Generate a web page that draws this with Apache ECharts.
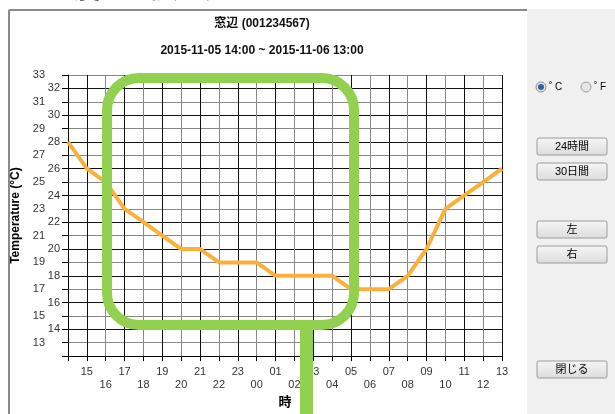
<!DOCTYPE html>
<html>
<head>
<meta charset="utf-8">
<script src="https://cdn.jsdelivr.net/npm/echarts@6/dist/echarts.min.js"></script>
<style>
  html, body { margin: 0; padding: 0; background: #fff; }
  #chart { width: 615px; height: 414px; }
</style>
</head>
<body>
<div id="chart"></div>
<script>
// hours from 2015-11-05 14:00 to 2015-11-06 13:00
const hours = ["14", "15", "16", "17", "18", "19", "20", "21", "22", "23", "00", "01",
               "02", "03", "04", "05", "06", "07", "08", "09", "10", "11", "12", "13"];
const temps = [28, 26, 25, 23, 22, 21, 20, 20, 19, 19, 19, 18,
               18, 18, 18, 17, 17, 17, 18, 20, 23, 24, 25, 26];
const yMin = 12;
const yMax = 33;

const FONT = "'Liberation Sans Narrow', 'Liberation Sans', 'Noto Sans CJK JP', sans-serif";

const chart = echarts.init(document.getElementById("chart"));

// simple windows-like button
function button(x, y, w, h, label) {
  return {
    type: "group",
    x: x,
    y: y,
    children: [
      {
        type: "rect",
        shape: { x: 0, y: 0, width: w, height: h, r: 2 },
        style: {
          fill: new echarts.graphic.LinearGradient(0, 0, 0, 1, [
            { offset: 0, color: "#f6f6f6" },
            { offset: 1, color: "#dcdcdc" },
          ]),
          stroke: "#9c9c9c",
          lineWidth: 1,
        },
      },
      {
        type: "text",
        x: w / 2,
        y: h / 2,
        style: {
          text: label,
          fill: "#000",
          font: "11px " + FONT,
          align: "center",
          verticalAlign: "middle",
        },
      },
    ],
  };
}

const option = {
  animation: false,
  backgroundColor: "#fff",
  title: [
    {
      text: "窓辺 (001234567)",
      left: 257,
      top: 13,
      textAlign: "center",
      textStyle: { fontFamily: FONT, fontSize: 12, fontWeight: "bold", color: "#111" },
    },
    {
      text: "2015-11-05 14:00 ~ 2015-11-06 13:00",
      left: 257,
      top: 40,
      textAlign: "center",
      textStyle: { fontFamily: FONT, fontSize: 12, fontWeight: "bold", color: "#111" },
    },
  ],
  grid: { left: 68, right: 113, top: 75, bottom: 48 },
  xAxis: {
    type: "category",
    data: hours,
    boundaryGap: false,
    name: "時",
    nameLocation: "middle",
    nameGap: 34,
    nameTextStyle: { fontFamily: FONT, fontSize: 13, fontWeight: "bold", color: "#000" },
    axisLine: { lineStyle: { color: "#000", width: 1 } },
    axisTick: { show: true, length: 5, lineStyle: { color: "#000" } },
    axisLabel: {
      interval: 0,
      margin: 9,
      fontFamily: FONT,
      fontSize: 11,
      color: "#333",
      lineHeight: 13,
      formatter: (v, i) => (i === 0 ? "" : i % 2 ? v : "\n" + v),
    },
    splitLine: {
      show: true,
      interval: 0,
      lineStyle: { color: ["#888", "#111"], width: 1 },
    },
  },
  yAxis: {
    type: "value",
    min: yMin,
    max: yMax,
    interval: 1,
    name: "Temperature (°C)",
    nameLocation: "middle",
    nameGap: 35,
    nameTextStyle: { fontFamily: FONT, fontSize: 12, fontWeight: "bold", color: "#000" },
    axisLine: { show: true, lineStyle: { color: "#000", width: 1 } },
    axisTick: { show: true, length: 6, lineStyle: { color: "#000" } },
    axisLabel: {
      margin: 8,
      fontFamily: FONT,
      fontSize: 11,
      color: "#333",
      formatter: (v) => (v === yMin ? "" : v % 2 ? "{o|" + v + "}" : "{e|" + v + "}"),
      rich: {
        o: { fontFamily: FONT, fontSize: 11, color: "#333", padding: [0, 15, 0, 0] },
        e: { fontFamily: FONT, fontSize: 11, color: "#333" },
      },
    },
    splitLine: {
      show: true,
      lineStyle: { color: ["#111", "#888"], width: 1 },
    },
  },
  series: [
    {
      type: "line",
      data: temps,
      showSymbol: false,
      lineStyle: { color: "#fbb03b", width: 4 },
      itemStyle: { color: "#fbb03b" },
      z: 5,
    },
  ],
  graphic: [
    // clipped heading above the frame
    {
      type: "text",
      x: 45,
      y: -24,
      style: { text: "温度 ― 履歴グラフ", font: "bold 28px " + FONT, fill: "#000" },
    },
    // window frame
    { type: "line", shape: { x1: 9, y1: 10, x2: 527, y2: 10 }, style: { stroke: "#8a8a8a", lineWidth: 2 } },
    { type: "line", shape: { x1: 9, y1: 10, x2: 9, y2: 414 }, style: { stroke: "#8a8a8a", lineWidth: 2 } },
    // right panel
    { type: "rect", shape: { x: 527, y: 9, width: 88, height: 405 }, style: { fill: "#f0f0f0" } },
    // radio buttons
    {
      type: "circle",
      shape: { cx: 541, cy: 87, r: 5 },
      style: { fill: "#e6e6e6", stroke: "#8c8c8c", lineWidth: 1 },
    },
    { type: "circle", shape: { cx: 541, cy: 87, r: 3 }, style: { fill: "#2a62a8" } },
    {
      type: "text",
      x: 549,
      y: 87,
      style: { text: "˚ C", font: "10px " + FONT, fill: "#000", verticalAlign: "middle" },
    },
    {
      type: "circle",
      shape: { cx: 586, cy: 87, r: 5 },
      style: { fill: "#e6e6e6", stroke: "#a0a0a0", lineWidth: 1 },
    },
    {
      type: "text",
      x: 594,
      y: 87,
      style: { text: "˚ F", font: "10px " + FONT, fill: "#000", verticalAlign: "middle" },
    },
    button(537, 138, 70, 17, "24時間"),
    button(537, 163, 70, 17, "30日間"),
    button(537, 221, 70, 17, "左"),
    button(537, 246, 70, 17, "右"),
    button(537, 361, 70, 17, "閉じる"),
    // green annotation
    {
      type: "rect",
      z: 100,
      shape: { x: 107, y: 78, width: 247, height: 247, r: 32 },
      style: { fill: "none", stroke: "#92d050", lineWidth: 10 },
    },
    {
      type: "rect",
      z: 100,
      shape: { x: 300, y: 325, width: 13, height: 90 },
      style: { fill: "#92d050" },
    },
  ],
};

chart.setOption(option);
</script>
</body>
</html>
